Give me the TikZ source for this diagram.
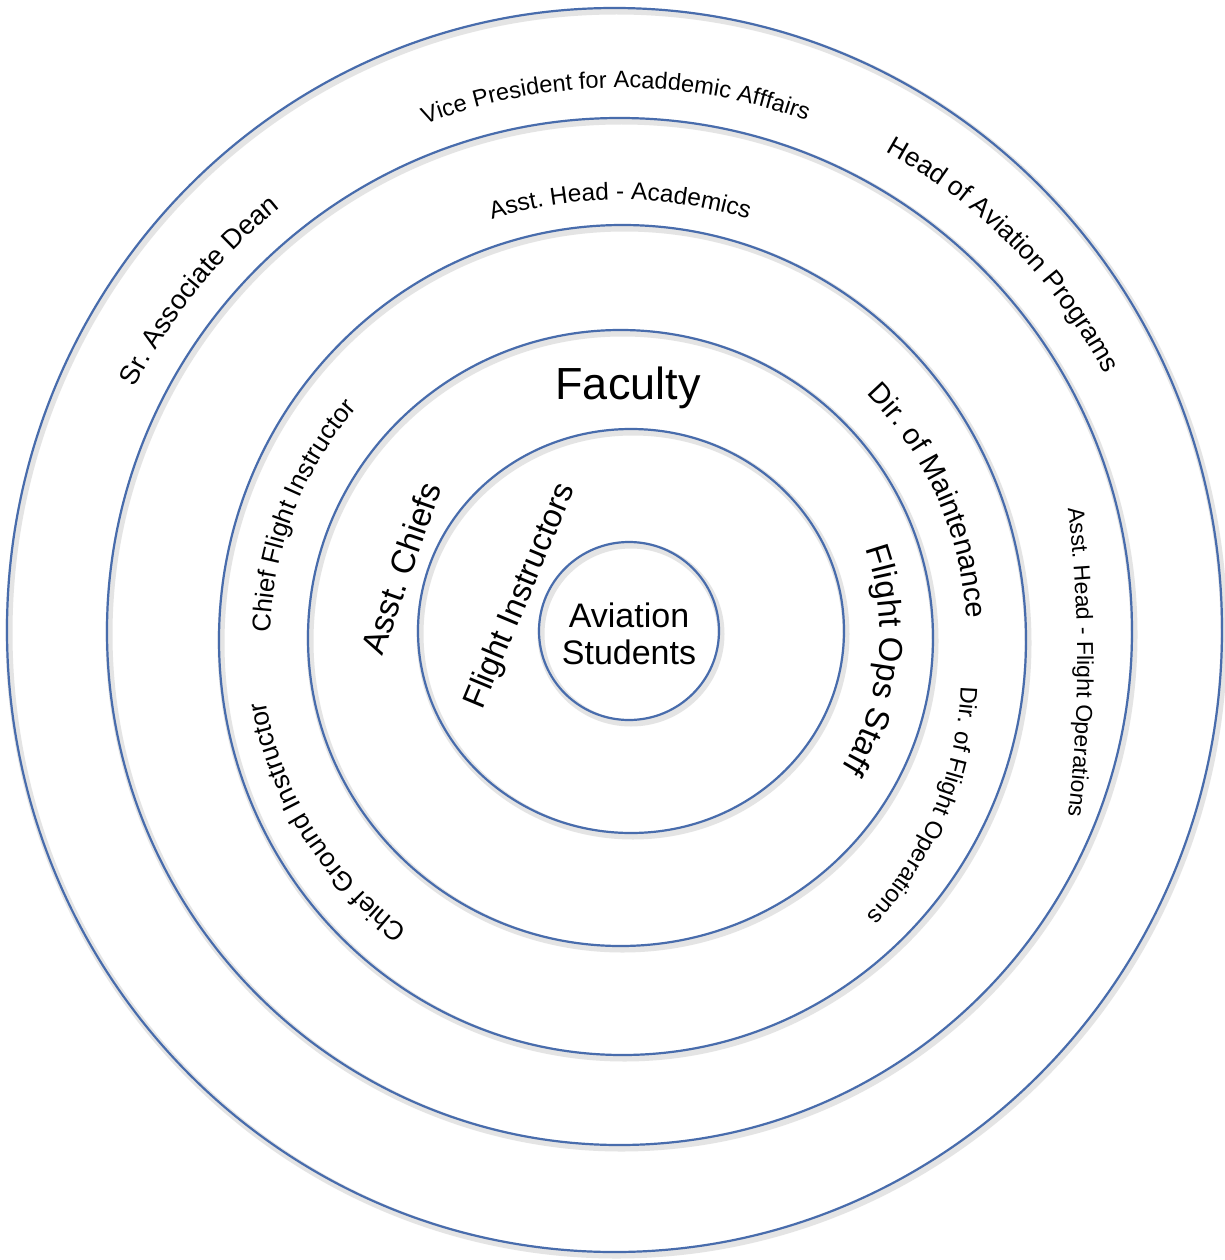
\documentclass[tikz,border=0pt]{standalone}
\usepackage{fontspec}
\setmainfont{Liberation Sans}
\usetikzlibrary{decorations.text}
\definecolor{ringblue}{RGB}{72,108,172}
\frenchspacing

% one ring: soft shadow first, then the blue outline
\newcommand{\orgring}[4]{%
  \draw[ringshadow, shift={(2,-3)}] (#1,#2) ellipse [x radius=#3, y radius=#4];
  \draw[ringline] (#1,#2) ellipse [x radius=#3, y radius=#4];
}
% text set along a circular arc, read clockwise, centred on a mid angle
% #1 centre, #2 baseline radius, #3 mid angle, #4 font size, #5 text
\newcommand{\ringtext}[5]{%
  \path[decorate, decoration={text along path, text align=center,
      text={|\fontsize{#4}{#4}\selectfont|#5}}]
    (#1) ++({#3+60}:#2) arc[start angle={#3+60}, end angle={#3-60}, radius=#2];
}

\begin{document}
\begin{tikzpicture}[x=1pt, y=1pt,
  ringline/.style={draw=ringblue, line width=2.2},
  ringshadow/.style={draw=black!35, line width=7, opacity=0.3},
  flat/.style={inner sep=0, text=black, align=center}]
\useasboundingbox (0,0) rectangle (1225,-1260);
\fill[white] (0,0) rectangle (1225,-1260);

% rings, outermost first
\orgring{614.5}{-630}{607.5}{622}
\orgring{619.5}{-631.5}{512.5}{513.5}
\orgring{622.5}{-640}{403.5}{415}
\orgring{620.5}{-638}{312.5}{308}
\orgring{631}{-631}{213}{202}
\orgring{629}{-631}{90}{89}

% centres used by the curved labels
\coordinate (oc) at (620,-632);
\coordinate (mc) at (621,-638);
\coordinate (ic) at (626,-634);
\coordinate (fc) at (604,-674);
\coordinate (rc) at (-199,-662);

% outer ring
\ringtext{oc}{544}{90.5}{23.6}{Vice President for Acaddemic Afffairs}
\ringtext{oc}{549}{44.5}{26.5}{Head of Aviation Programs}
\ringtext{oc}{543}{141}{27.2}{Sr. Associate Dean}

% second ring
\ringtext{oc}{432}{90}{24.4}{Asst. Head - Academics}
\ringtext{rc}{1276}{0}{23}{Asst. Head - Flight Operations}

% third ring
\ringtext{mc}{350}{159}{25.8}{Chief Flight Instructor}
\ringtext{mc}{361}{212}{26.5}{Chief Ground Instructor}
\ringtext{mc}{346}{24}{29}{Dir. of Maintenance}
\ringtext{fc}{357}{-22.3}{24}{Dir. of Flight Operations}

% fourth ring
\node[flat, font=\fontsize{45}{45}\selectfont] (faculty) at (628,-388) {Faculty};
\node[flat, font=\fontsize{33.5}{33.5}\selectfont, rotate=70.6] (chiefs) at (401,-568) {Asst. Chiefs};
\ringtext{ic}{254}{-6}{33}{Flight Ops Staff}

% fifth ring
\node[flat, font=\fontsize{32.5}{32.5}\selectfont, rotate=67.3] (instructors) at (521,-596) {Flight Instructors};

% core
\node[flat, font=\fontsize{34}{37}\selectfont] (students) at (629,-634) {Aviation\\Students};
\end{tikzpicture}
\end{document}
